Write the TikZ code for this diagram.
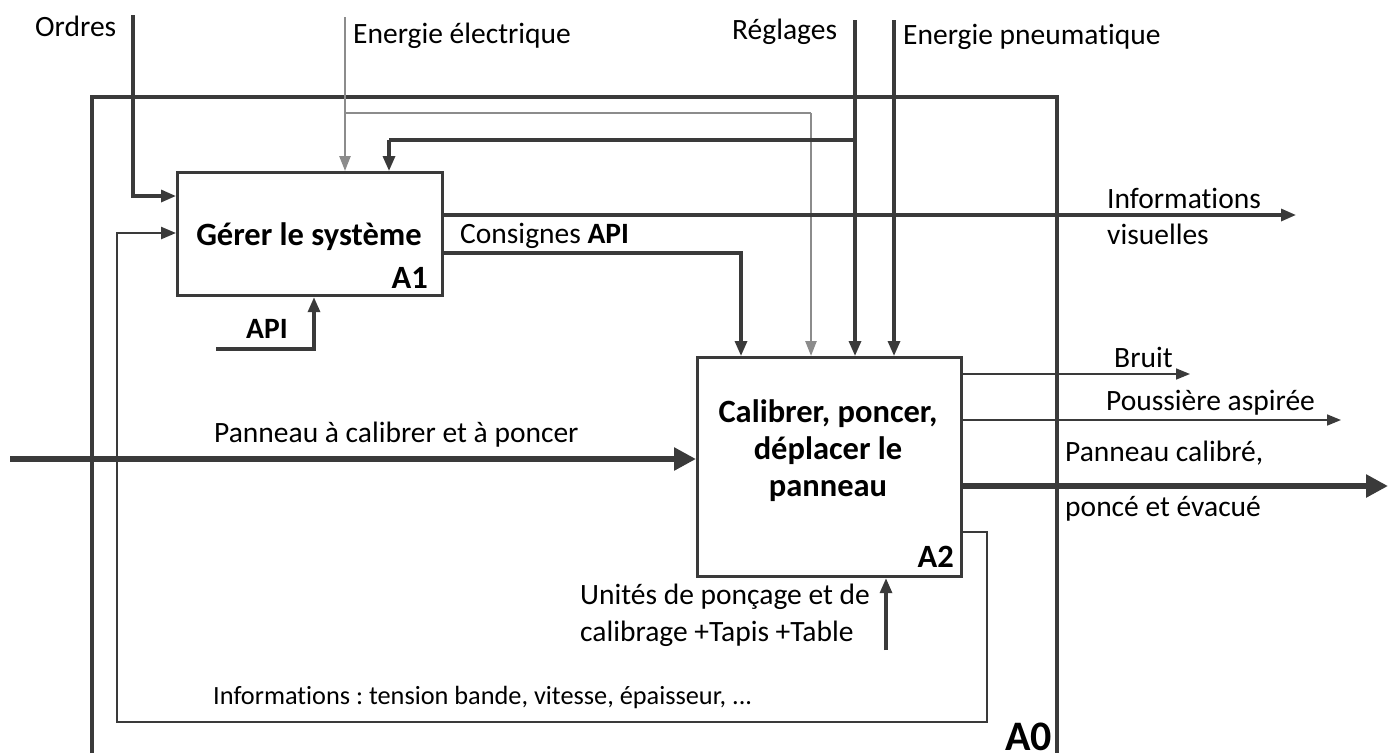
\documentclass[tikz,border=0pt]{standalone}
\usepackage{fontspec}
\setmainfont{Carlito}[Ligatures={NoCommon}]
\usetikzlibrary{arrows.meta}
\definecolor{dk}{HTML}{3A3A3A}
\definecolor{gr}{HTML}{8C8C8C}
\frenchspacing
\begin{document}
\begin{tikzpicture}[x=1pt,y=-1pt,
  ln/.style={draw=dk, line width=3.2pt},
  arr/.style={ln, -{Triangle[length=15pt,width=12pt]}},
  thinarr/.style={draw=dk, line width=1.6pt, -{Triangle[length=14pt,width=11pt]}},
  thickarr/.style={draw=dk, line width=6.5pt, -{Triangle[length=22pt,width=22pt]}},
  garr/.style={draw=gr, line width=2.4pt, -{Triangle[length=15pt,width=11pt]}},
  gln/.style={draw=gr, line width=2.4pt},
  box/.style={draw=dk, line width=3.2pt, inner sep=0pt, fill=white},
  txt/.style={font=\fontsize{29.5}{35}\selectfont, inner sep=0pt, anchor=base west},
  btxt/.style={font=\bfseries\fontsize{32.5}{39}\selectfont, inner sep=0pt},
  ]
\useasboundingbox (0,0) rectangle (1391,753);
\fill[white] (0,0) rectangle (1391,753);

% A0 frame
\coordinate (F1) at (92,753);
\coordinate (F2) at (92,97);
\coordinate (F3) at (1057,97);
\coordinate (F4) at (1057,753);
\draw[ln] (F1) -- (F2) -- (F3) -- (F4);
\node[btxt, font=\bfseries\fontsize{42}{44}\selectfont, anchor=base east] (A0) at (1052,750) {A0};

% boxes
\node[box, minimum width=265pt, minimum height=123pt, anchor=north west] (A1) at (176,171) {};
\node[btxt, anchor=base] (A1t) at (309,245) {Gérer le système};
\node[btxt, anchor=base east] (A1n) at (428,288) {A1};

\node[box, minimum width=264pt, minimum height=219pt, anchor=north west] (A2) at (696,356) {};
\node[btxt, font=\bfseries\fontsize{32.5}{37}\selectfont, align=center, anchor=north] (A2t) at (828,399) {Calibrer, poncer,\\déplacer le\\panneau};
\node[btxt, anchor=base east] (A2n) at (954,567) {A2};

% Ordres
\coordinate (ordT) at (133,15);
\node[txt] (ordL) at (35,36) {Ordres};
\draw[arr] (ordT) |- (A1.west |- 0,196);

% Energie electrique
\coordinate (eeT) at (345,17);
\coordinate (eeB) at (345,113);
\coordinate (eeC) at (811,113);
\node[txt] (eeL) at (353,43) {Energie électrique};
\draw[garr] (eeT) -- (A1.north -| eeT);
\draw[gln] (eeB) -- (eeC);
\draw[garr] (eeC) -- (A2.north -| eeC);

% Reglages
\coordinate (regT) at (855,20);
\coordinate (regB) at (855,140);
\coordinate (regC) at (389,140);
\node[txt] (regL) at (732,39) {Réglages};
\draw[arr] (regT) -- (A2.north -| regT);
\draw[ln] (regB) -- (regC);
\draw[arr] (regC) -- (A1.north -| regC);

% Energie pneumatique
\coordinate (pnT) at (894,20);
\node[txt] (pnL) at (903,44) {Energie pneumatique};
\draw[arr] (pnT) -- (A2.north -| pnT);

% Informations visuelles
\coordinate (ivE) at (1296,215);
\draw[arr] (A1.east |- ivE) -- (ivE);
\node[txt] (ivL1) at (1107,208) {Informations};
\node[txt] (ivL2) at (1107,244) {visuelles};

% Consignes API
\coordinate (cC) at (741,253);
\draw[arr] (A1.east |- cC) -| (A2.north -| cC);
\node[txt] (cL) at (460,243) {Consignes \textbf{API}};

% API mechanism
\coordinate (apiS) at (216,349);
\coordinate (apiC) at (314,349);
\draw[arr] (apiS) -- (apiC) -- (A1.south -| apiC);
\node[btxt, font=\bfseries\fontsize{29.5}{35}\selectfont, anchor=base west] (apiL) at (246,338) {API};

% Panneau input
\coordinate (pS) at (10,459);
\draw[thickarr] (pS) -- (A2.west |- pS);
\node[txt] (pL) at (214,442) {Panneau à calibrer et à poncer};

% outputs A2
\coordinate (bE) at (1190,374);
\draw[thinarr] (A2.east |- bE) -- (bE);
\node[txt] (bL) at (1114,367) {Bruit};
\coordinate (poE) at (1341,420);
\draw[thinarr] (A2.east |- poE) -- (poE);
\node[txt] (poL) at (1106,410) {Poussière aspirée};
\coordinate (pcE) at (1388,486);
\draw[thickarr] (A2.east |- pcE) -- (pcE);
\node[txt] (pcL1) at (1065,461) {Panneau calibré,};
\node[txt] (pcL2) at (1065,516) {poncé et évacué};

% mechanism A2
\coordinate (uS) at (886,650);
\draw[arr] (uS) -- (A2.south -| uS);
\node[txt] (uL1) at (580,604) {Unités de ponçage et de};
\node[txt] (uL2) at (580,641) {calibrage +Tapis +Table};

% feedback loop
\coordinate (fb1) at (987,532);
\coordinate (fb2) at (987,722);
\coordinate (fb3) at (117,722);
\coordinate (fb4) at (117,233);
\draw[arr, line width=2.4pt] (A2.east |- fb1) -- (fb1) -- (fb2) -- (fb3) -- (fb4) -- (A1.west |- fb4);
\node[txt, font=\fontsize{26.3}{30}\selectfont] (fbL) at (213,704) {Informations : tension bande, vitesse, épaisseur, ...};
\end{tikzpicture}
\end{document}
